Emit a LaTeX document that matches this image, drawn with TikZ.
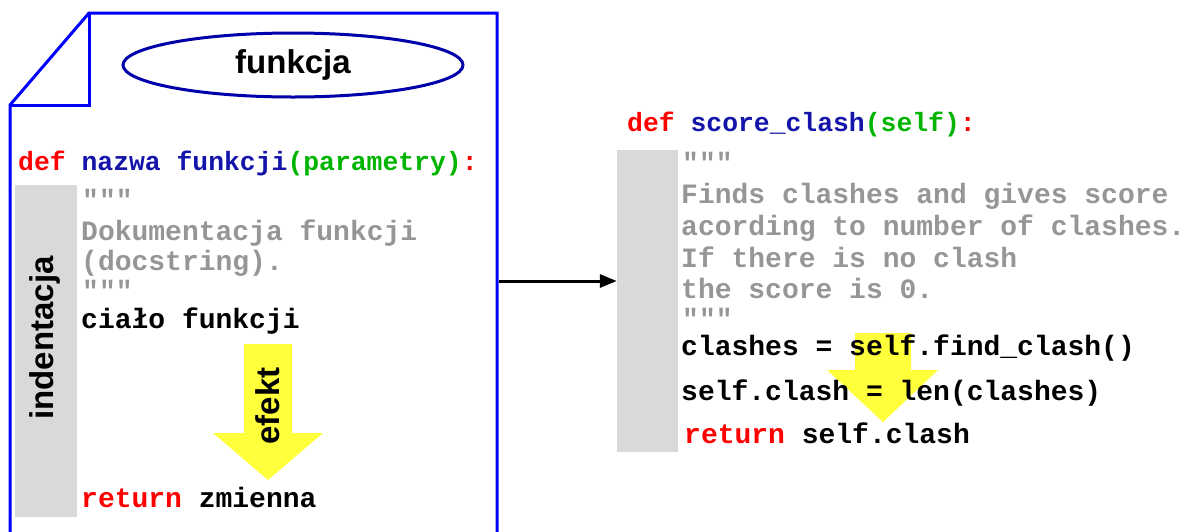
\documentclass[tikz,border=0pt]{standalone}
\usepackage{fontspec}
\setmainfont{Liberation Sans}
\newfontfamily\codefont{Liberation Mono}
\usetikzlibrary{arrows.meta,shapes.geometric}

\definecolor{kwred}{RGB}{255,0,0}
\definecolor{fnblue}{RGB}{20,20,170}
\definecolor{argreen}{RGB}{0,180,0}
\definecolor{docgray}{RGB}{150,150,150}
\definecolor{bargray}{RGB}{217,217,217}
\definecolor{docblue}{RGB}{0,0,255}
\definecolor{ellblue}{RGB}{0,0,170}
\definecolor{effyellow}{RGB}{255,255,60}

\tikzset{
  code/.style={font=\codefont\bfseries\fontsize{28}{28}\selectfont,anchor=base west,inner sep=0pt},
  head/.style={code,font=\codefont\bfseries\fontsize{26.4}{26.4}\selectfont},
  docstr/.style={code,text=docgray},
  title/.style={font=\bfseries\fontsize{33}{33}\selectfont,inner sep=0pt},
  bar/.style={fill=bargray,draw=none,inner sep=0pt},
  effect/.style={fill=effyellow,draw=none}
}

\begin{document}
\begin{tikzpicture}[x=1pt,y=-1pt]
\useasboundingbox (0,0) rectangle (1186,531);

% left page
\draw[docblue,line width=3pt,line join=miter] (10,545) -- (10,105) -- (89,13) -- (497,13) -- (497,545);
\draw[docblue,line width=3pt,line join=miter] (10,105) -- (89,105) -- (89,13);
\node[ellipse,draw=ellblue,line width=3pt,minimum width=340pt,minimum height=64pt,title] (fun) at (293,65) {funkcja};

\node[bar,minimum width=62pt,minimum height=332pt] (lbar) at (46,351) {};
\node[title,rotate=90] (indent) at (45,338) {indentacja};

\fill[effect] (244,344) -- (292,344) -- (292,433) -- (323,433) -- (268,480) -- (213,433) -- (244,433) -- cycle;
\node[title,rotate=90] (eff) at (268,406) {efekt};

\node[head] (ldef) at (18,170) {\textcolor{kwred}{def} \textcolor{fnblue}{nazwa funkcji}\textcolor{argreen}{(parametry)}\textcolor{kwred}{:}};
\node[docstr] (lq1) at (82,209) {"""};
\node[docstr] (ld1) at (81,240) {Dokumentacja funkcji};
\node[docstr] (ld2) at (81,270) {(docstring).};
\node[docstr] (lq2) at (82,300) {"""};
\node[code] (lbody) at (81,328) {ciało funkcji};
\node[code] (lret) at (81,507) {\textcolor{kwred}{return} zmienna};

% right code
\node[bar,minimum width=61pt,minimum height=302pt] (rbar) at (647.5,301) {};
\fill[effect] (855,333) -- (911,333) -- (911,370) -- (938,370) -- (883,422) -- (827,370) -- (855,370) -- cycle;

\node[head] (rdef) at (627,131) {\textcolor{kwred}{def} \textcolor{fnblue}{score\_clash}\textcolor{argreen}{(self)}\textcolor{kwred}{:}};
\node[docstr] (rq1) at (682,172) {"""};
\node[docstr] (rd1) at (681,203) {Finds clashes and gives score};
\node[docstr] (rd2) at (681,235) {acording to number of clashes.};
\node[docstr] (rd3) at (681,267) {If there is no clash};
\node[docstr] (rd4) at (681,298) {the score is 0.};
\node[docstr] (rq2) at (682,328) {"""};
\node[code] (rl1) at (681,355) {clashes = self.find\_clash()};
\node[code] (rl2) at (681,400) {self.clash = len(clashes)};
\node[code] (rret) at (684,443) {\textcolor{kwred}{return} self.clash};

% connector
\coordinate (pageE) at (499,281);
\draw[line width=3pt,-{Triangle[length=17pt,width=13pt]}] (pageE) -- (pageE -| rbar.west);
\end{tikzpicture}
\end{document}
